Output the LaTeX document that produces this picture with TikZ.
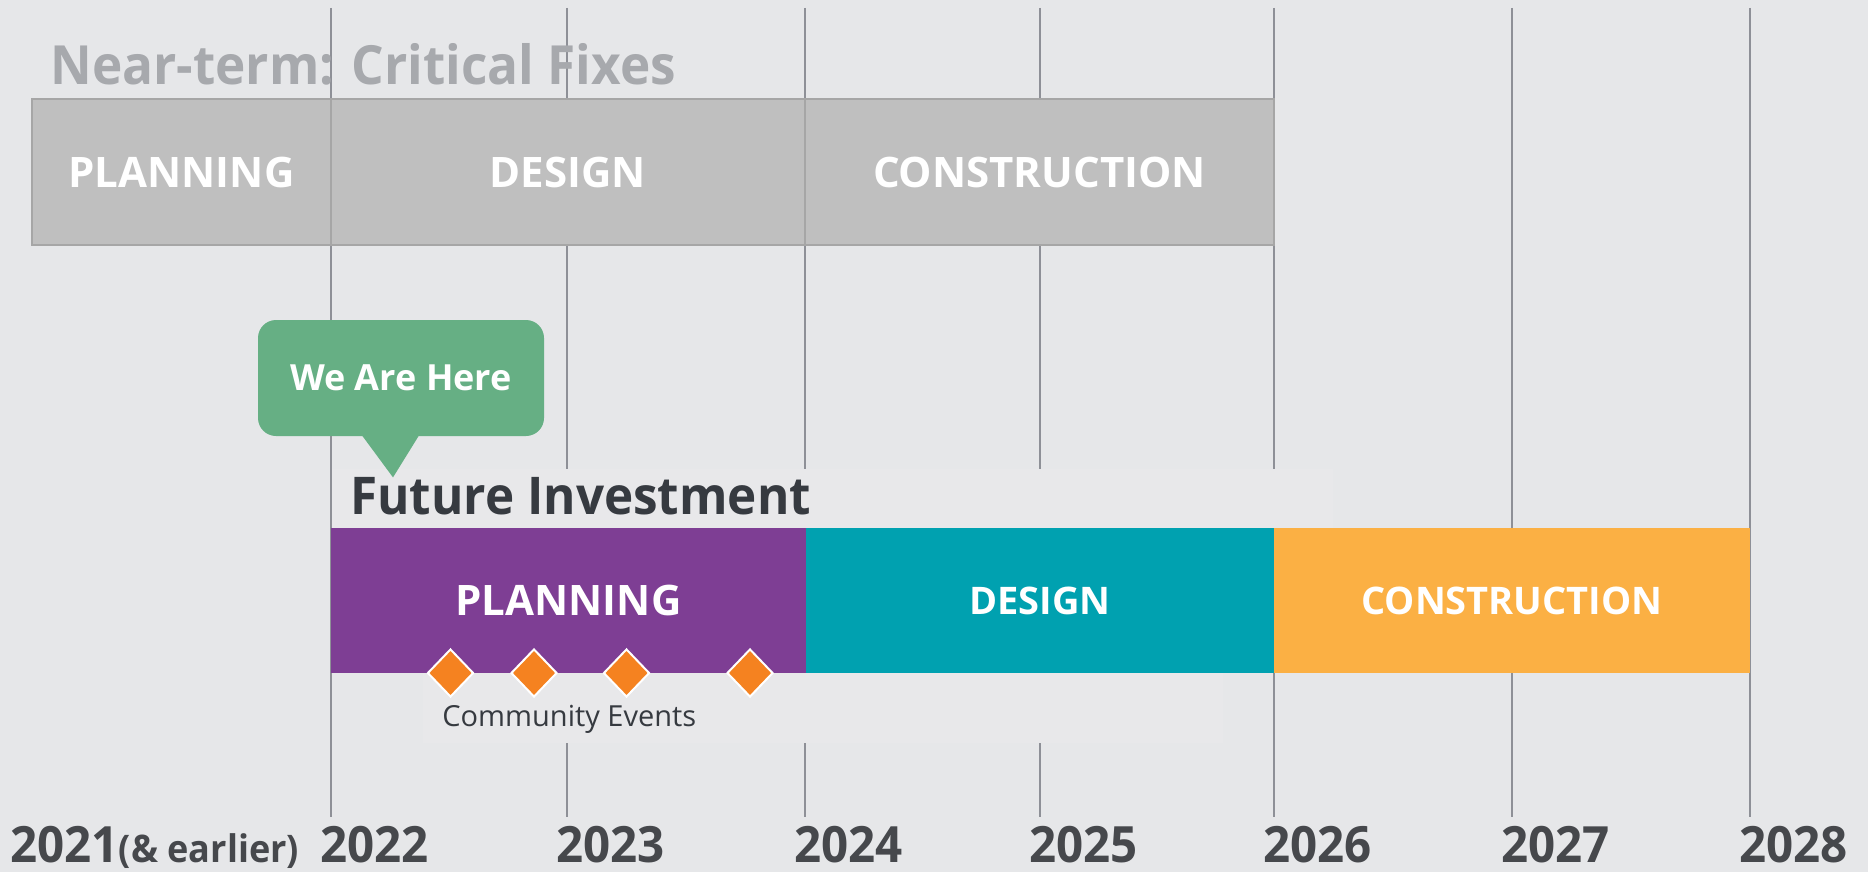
\documentclass[tikz,border=0pt]{standalone}
\usepackage{fontspec}
\setmainfont{Open Sans}
\newfontfamily\narrowsans{Open Sans}[FakeStretch=0.95]
\usetikzlibrary{shapes.geometric, calc, positioning}

\definecolor{bggray}{HTML}{E6E7E9}
\definecolor{masklight}{HTML}{E8E8EA}
\definecolor{gridgray}{HTML}{8E9097}
\definecolor{boxgray}{HTML}{BFBFBF}
\definecolor{boxedge}{HTML}{A6A6A6}
\definecolor{neartext}{HTML}{A7A9AD}
\definecolor{darktext}{HTML}{363A40}
\definecolor{yeargray}{HTML}{46484C}
\definecolor{heregreen}{HTML}{66AF84}
\definecolor{planpurple}{HTML}{7E3E94}
\definecolor{designteal}{HTML}{00A1B0}
\definecolor{buildorange}{HTML}{FBB044}
\definecolor{eventorange}{HTML}{F58220}

\begin{document}
\begin{tikzpicture}[
    x=0.5pt, y=-0.5pt,
    gridline/.style={draw=gridgray, line width=0.8pt},
    nearbox/.style={rectangle, draw=boxedge, fill=boxgray, line width=1.25pt, minimum height=73pt, inner sep=0pt, text=white, font=\fontsize{21}{21}\selectfont\bfseries},
    bar/.style={rectangle, minimum height=72.5pt, inner sep=0pt, text=white, font=\fontsize{19}{19}\selectfont\bfseries},
    heading/.style={anchor=base west, inner sep=0pt, font=\narrowsans\fontsize{26}{26}\selectfont\bfseries},
    event/.style={diamond, fill=eventorange, draw=white, line width=1pt, minimum width=23pt, minimum height=24pt, inner sep=0pt},
    year/.style={anchor=base west, inner sep=0pt, text=yeargray, font=\narrowsans\fontsize{25}{25}\selectfont\bfseries},
]

% Background and year grid
\useasboundingbox (0,0) rectangle (1868,872);
\fill[bggray] (0,0) rectangle (1868,872);
\foreach \x in {331,567,805,1040,1274,1512,1750}
  \draw[gridline] (\x,8) -- (\x,817);

% Light patches behind the labels
\fill[masklight] (332,469) rectangle (1333,528);
\fill[masklight] (423,673) rectangle (1223,743);

% Near-term phases
\node[heading, text=neartext, font=\narrowsans\fontsize{27}{27}\selectfont\bfseries] (nearhead) at (50,85) {Near-term: Critical Fixes};
\node[nearbox, minimum width=149.5pt] (nplan) at (181.5,172) {PLANNING};
\node[nearbox, minimum width=237pt] (ndes) at (568,172) {DESIGN};
\node[nearbox, minimum width=234.5pt] (ncon) at (1039.5,172) {CONSTRUCTION};

% Future investment phases
\node[heading, text=darktext] (futurehead) at (350,514) {Future Investment};
\node[bar, fill=planpurple, minimum width=237.5pt, font=\fontsize{21}{21}\selectfont\bfseries] (fplan) at (568.5,600.5) {PLANNING};
\node[bar, fill=designteal, minimum width=234pt] (fdes) at (1040,600.5) {DESIGN};
\node[bar, fill=buildorange, minimum width=238pt] (fcon) at (1512,600.5) {CONSTRUCTION};

% We are here callout
\node[rectangle, rounded corners=9pt, fill=heregreen, minimum width=143pt, minimum height=58pt, text=white, font=\fontsize{18}{18}\selectfont\bfseries] (here) at (401,378) {We Are Here};
\fill[heregreen] ($(here.south)+(-39,-1)$) -- ($(here.south)+(18,-1)$) -- ($(here.south)+(-8,41)$) -- cycle;

% Community events
\foreach \x [count=\i] in {450.5,534,626.5,750}
  \node[event] (ev\i) at (\x,673) {};
\node[anchor=base west, inner sep=0pt, text=darktext, font=\fontsize{14.5}{14.5}\selectfont] (evlabel) at (442,726) {Community Events};

% Years
\node[year] (y2021) at (10,862) {2021{\fontsize{19}{19}\selectfont(\& earlier)}};
\foreach \x/\yr in {331/2022,567/2023,805/2024,1040/2025,1274/2026,1512/2027,1750/2028}
  \node[year] (y\yr) at (\x-11,862) {\yr};

\end{tikzpicture}
\end{document}
